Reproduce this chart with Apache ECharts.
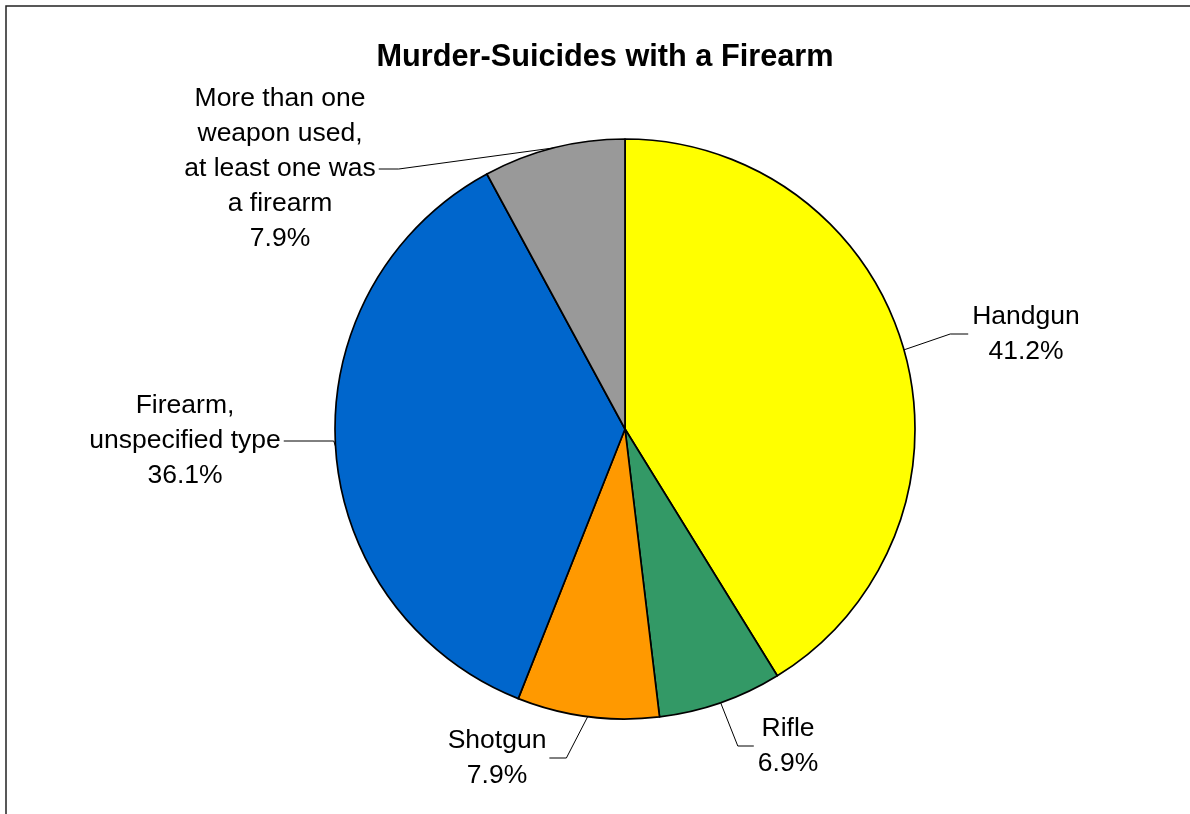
<!DOCTYPE html>
<html>
<head>
<meta charset="utf-8">
<script src="https://cdn.jsdelivr.net/npm/echarts@6/dist/echarts.min.js"></script>
<style>
html,body{margin:0;padding:0;background:#fff;}
#chart{width:1190px;height:814px;}
</style>
</head>
<body>
<div id="chart"></div>
<script>
const title = 'Murder-Suicides with a Firearm';
const categories = ['Handgun', 'Rifle', 'Shotgun', 'Firearm,\nunspecified type', 'More than one\nweapon used,\nat least one was\na firearm'];
const values = [41.2, 6.9, 7.9, 36.1, 7.9];
const colors = ['#FFFF00', '#339966', '#FF9900', '#0066CC', '#999999'];

// label placement (presentation only)
const labelCenters = [[1026, 334], [788, 746], [497, 758], [185, 441], [280, 169]];
const labelSide = ['left', 'left', 'right', 'right', 'right'];
const labelLen2 = [18, 16, 17, 50, 20];

const chart = echarts.init(document.getElementById('chart'));
const option = {
  backgroundColor: '#fff',
  animation: false,
  title: {
    text: title,
    left: 600,
    top: 37,
    textAlign: 'center',
    textStyle: {fontFamily: 'Liberation Sans, Arial, sans-serif', fontSize: 30.7, fontWeight: 'bold', color: '#000'}
  },
  graphic: [{
    type: 'rect',
    shape: {x: 6, y: 6, width: 1300, height: 1000},
    style: {fill: 'none', stroke: '#222', lineWidth: 1.5},
    silent: true
  }],
  series: [{
    type: 'pie',
    center: [625, 429],
    radius: [0, 290],
    startAngle: 90,
    clockwise: true,
    avoidLabelOverlap: false,
    itemStyle: {borderColor: '#000', borderWidth: 1.7},
    emphasis: {disabled: true},
    label: {
      show: true,
      position: 'outside',
      fontFamily: 'Liberation Sans, Arial, sans-serif',
      fontSize: 26.5,
      lineHeight: 35,
      color: '#000',
      formatter: p => p.name + '\n' + p.value.toFixed(1) + '%'
    },
    labelLine: {show: true, length: 20, length2: 15, lineStyle: {color: '#000', width: 1}},
    labelLayout: function (params) {
      const i = params.dataIndex;
      const c = labelCenters[i];
      const w = params.labelRect.width;
      const anchor = params.labelLinePoints ? params.labelLinePoints[0] : c;
      const endX = labelSide[i] === 'left' ? c[0] - w / 2 - 4 : c[0] + w / 2 + 3;
      const elbowX = labelSide[i] === 'left' ? endX - labelLen2[i] : endX + labelLen2[i];
      return {
        x: c[0], y: c[1], align: 'center', verticalAlign: 'middle',
        labelLinePoints: [anchor, [elbowX, c[1]], [endX, c[1]]]
      };
    },
    data: categories.map((n, i) => ({name: n, value: values[i], itemStyle: {color: colors[i]}}))
  }]
};
chart.setOption(option);
</script>
</body>
</html>
